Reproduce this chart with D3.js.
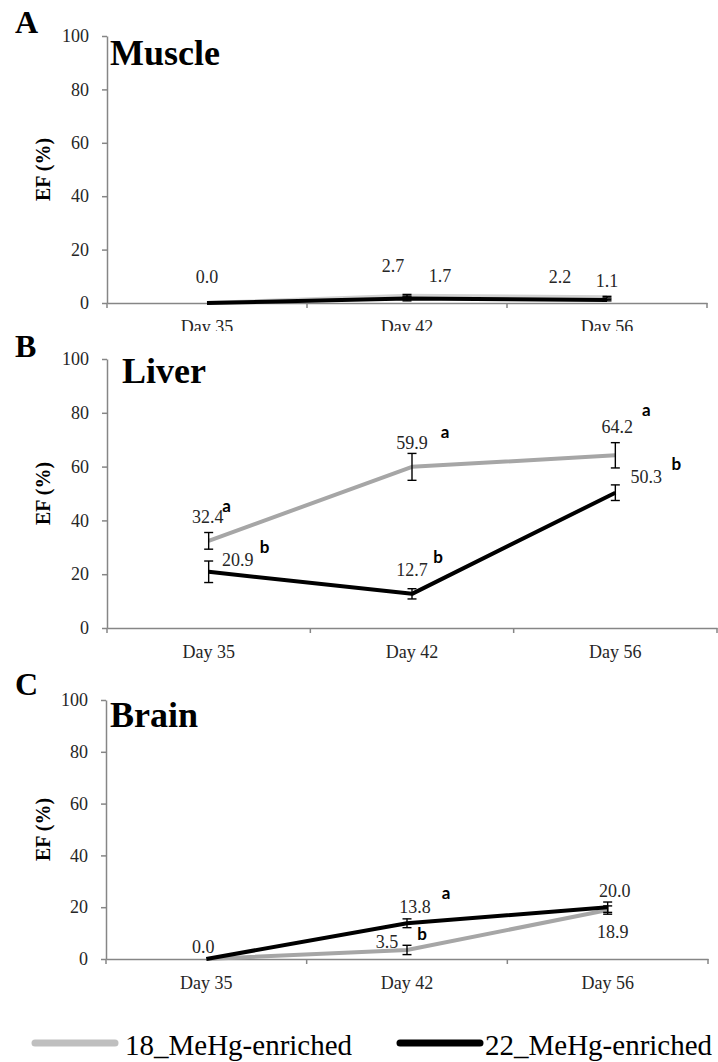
<!DOCTYPE html>
<html>
<head>
<meta charset="utf-8">
<script src="https://cdn.jsdelivr.net/npm/d3@7"></script>
<style>
  body { margin: 0; background: #fff; }
  svg { display: block; }
</style>
</head>
<body>
<div id="chart"></div>
<script>
// Data
const days = ['Day 35', 'Day 42', 'Day 56']
const yTicks = [0, 20, 40, 60, 80, 100]
const seriesNames = ['18_MeHg-enriched', '22_MeHg-enriched']

const muscle18 = [0.0, 2.7, 2.2]
const muscle22 = [0.0, 1.7, 1.1]
const muscle18Err = [0, 0.5, 0.3]
const muscle22Err = [0, 0.9, 0.3]

const liver18 = [32.4, 59.9, 64.2]
const liver22 = [20.9, 12.7, 50.3]
const liver18Err = [3.1, 5.0, 4.7]
const liver22Err = [4.0, 1.9, 2.9]
const liver18Sig = ['a', 'a', 'a']
const liver22Sig = ['b', 'b', 'b']

const brain18 = [0.0, 3.5, 18.9]
const brain22 = [0.0, 13.8, 20.0]
const brain18Err = [0, 1.8, 1.6]
const brain22Err = [0, 1.7, 2.0]
const brain18Sig = ['', 'b', '']
const brain22Sig = ['', 'a', '']

// Constants
const width = 718
const height = 1062
const serif = '"Liberation Serif", "Times New Roman", serif'
const sans = 'Lato, "Liberation Sans", Arial, sans-serif'
const axisColor = '#868686'
const textColor = '#262626'

// Label offsets from each point (dx, dy to baseline)
const panels = [
    {
        letter: 'A', title: 'Muscle', left: 107, right: 707, top: 36, bottom: 303,
        titleX: 110, titleY: 65, letterY: 33, gray: '#d2d2d2',
        series: [
            { values: muscle18, err: muscle18Err, sig: null,
              valPos: [null, [-14, -24], [-47, -14]], sigPos: null },
            { values: muscle22, err: muscle22Err, sig: null,
              valPos: [[0, -20], [33, -16], [0, -13]], sigPos: null }
        ]
    },
    {
        letter: 'B', title: 'Liver', left: 107, right: 717, top: 359, bottom: 628,
        titleX: 122, titleY: 383, letterY: 357, gray: '#a6a6a6', clipTop: 331,
        series: [
            { values: liver18, err: liver18Err, sig: liver18Sig,
              valPos: [[-1, -18], [0, -18], [2, -22]], sigPos: [[18, -29], [33, -29], [31, -39]] },
            { values: liver22, err: liver22Err, sig: liver22Sig,
              valPos: [[29, -6], [0, -18], [31, -10]], sigPos: [[56, -19], [26, -31], [61, -23]] }
        ]
    },
    {
        letter: 'C', title: 'Brain', left: 106, right: 708, top: 700, bottom: 959,
        titleX: 110, titleY: 727, letterY: 695, gray: '#a6a6a6', clipTop: 664,
        series: [
            { values: brain18, err: brain18Err, sig: brain18Sig,
              valPos: [null, [-20, -2], [5, 28]], sigPos: [null, [15, -10], null] },
            { values: brain22, err: brain22Err, sig: brain22Sig,
              valPos: [[-3, -6], [8, -10], [7, -10]], sigPos: [null, [39, -24], null] }
        ]
    }
]

const svg = d3.select('#chart')
    .append('svg')
    .attr('width', width)
    .attr('height', height)

svg.append('rect').attr('width', width).attr('height', height).attr('fill', '#fff')

panels.forEach(drawPanel)

function drawPanel(p) {
    const g = svg.append('g')

    // white background hides the x labels of the panel above
    if (p.clipTop) {
        g.append('rect')
            .attr('x', 0).attr('y', p.clipTop)
            .attr('width', width).attr('height', p.bottom + 40 - p.clipTop)
            .attr('fill', '#fff')
    }

    const x = d3.scaleBand().domain(days).range([p.left, p.right])
    const y = d3.scaleLinear().domain([0, 100]).range([p.bottom, p.top])
    const cx = i => x(days[i]) + x.bandwidth() / 2

    // y axis
    const yAxis = d3.axisLeft(y)
        .tickValues(yTicks)
        .tickSizeInner(5)
        .tickSizeOuter(0)
        .tickPadding(13)
    const yAxisGroup = g.append('g')
        .attr('transform', `translate(${p.left}, 0)`)
        .call(yAxis)
    yAxisGroup.selectAll('text')
        .style('font-family', serif)
        .style('font-size', '18px')
        .attr('fill', textColor)
    yAxisGroup.selectAll('line').attr('stroke', axisColor).attr('stroke-width', 1.5)
    yAxisGroup.select('.domain').attr('stroke', axisColor).attr('stroke-width', 1.5)

    // x axis
    const xAxis = d3.axisBottom(x).tickSize(0).tickSizeOuter(0)
    const xAxisGroup = g.append('g')
        .attr('transform', `translate(0, ${p.bottom})`)
        .call(xAxis)
    xAxisGroup.selectAll('text')
        .attr('dy', null)
        .attr('y', 30)
        .style('font-family', serif)
        .style('font-size', '18px')
        .attr('fill', textColor)
    xAxisGroup.select('.domain').attr('stroke', axisColor).attr('stroke-width', 1.5)
    const bounds = days.map(d => x(d)).concat([p.right])
    xAxisGroup.selectAll('.bound')
        .data(bounds)
        .enter().append('line')
        .attr('class', 'bound')
        .attr('x1', d => d).attr('x2', d => d)
        .attr('y1', 0).attr('y2', 5)
        .attr('stroke', axisColor).attr('stroke-width', 1.5)

    // y label
    g.append('text')
        .attr('transform', `translate(43, ${(p.top + p.bottom) / 2}) rotate(-90)`)
        .attr('text-anchor', 'middle')
        .attr('dy', '0.35em')
        .style('font-family', serif)
        .style('font-weight', 'bold')
        .style('font-size', '20px')
        .text('EF (%)')

    // panel letter and title
    g.append('text')
        .attr('x', 15).attr('y', p.letterY)
        .style('font-family', serif).style('font-weight', 'bold').style('font-size', '32px')
        .text(p.letter)
    g.append('text')
        .attr('x', p.titleX).attr('y', p.titleY)
        .style('font-family', serif).style('font-weight', 'bold').style('font-size', '36px')
        .text(p.title)

    const colors = [p.gray, '#000']
    const line = d3.line()
        .x((d, i) => cx(i))
        .y(d => y(d))

    p.series.forEach((s, k) => {
        g.append('path')
            .datum(s.values)
            .attr('d', line)
            .attr('fill', 'none')
            .attr('stroke', colors[k])
            .attr('stroke-width', 4)
            .attr('stroke-linejoin', 'round')
    })

    // error bars
    p.series.forEach(s => {
        s.values.forEach((v, i) => {
            const e = s.err[i]
            if (!e) return
            const eb = g.append('g').attr('stroke', '#000').attr('stroke-width', 1.4)
            eb.append('line').attr('x1', cx(i)).attr('x2', cx(i)).attr('y1', y(v - e)).attr('y2', y(v + e))
            eb.append('line').attr('x1', cx(i) - 4.5).attr('x2', cx(i) + 4.5).attr('y1', y(v - e)).attr('y2', y(v - e))
            eb.append('line').attr('x1', cx(i) - 4.5).attr('x2', cx(i) + 4.5).attr('y1', y(v + e)).attr('y2', y(v + e))
        })
    })

    // value labels and significance letters
    p.series.forEach(s => {
        s.values.forEach((v, i) => {
            const vp = s.valPos[i]
            if (vp) {
                g.append('text')
                    .attr('x', cx(i) + vp[0]).attr('y', y(v) + vp[1])
                    .attr('text-anchor', 'middle')
                    .style('font-family', serif).style('font-size', '18px')
                    .attr('fill', textColor)
                    .text(v.toFixed(1))
            }
            if (s.sig && s.sig[i] && s.sigPos[i]) {
                g.append('text')
                    .attr('x', cx(i) + s.sigPos[i][0]).attr('y', y(v) + s.sigPos[i][1])
                    .attr('text-anchor', 'middle')
                    .style('font-family', sans).style('font-weight', 'bold').style('font-size', '17px')
                    .text(s.sig[i])
            }
        })
    })
}

// Legend
const legend = svg.append('g')
const legendItems = [
    { name: seriesNames[0], color: '#bfbfbf', x1: 35, x2: 115, tx: 125 },
    { name: seriesNames[1], color: '#000', x1: 400, x2: 480, tx: 485 }
]
legendItems.forEach(it => {
    legend.append('line')
        .attr('x1', it.x1).attr('x2', it.x2)
        .attr('y1', 1043).attr('y2', 1043)
        .attr('stroke', it.color).attr('stroke-width', 7)
        .attr('stroke-linecap', 'round')
    legend.append('text')
        .attr('x', it.tx).attr('y', 1055)
        .style('font-family', serif).style('font-size', '29px')
        .attr('fill', '#000')
        .text(it.name)
})
</script>
</body>
</html>
